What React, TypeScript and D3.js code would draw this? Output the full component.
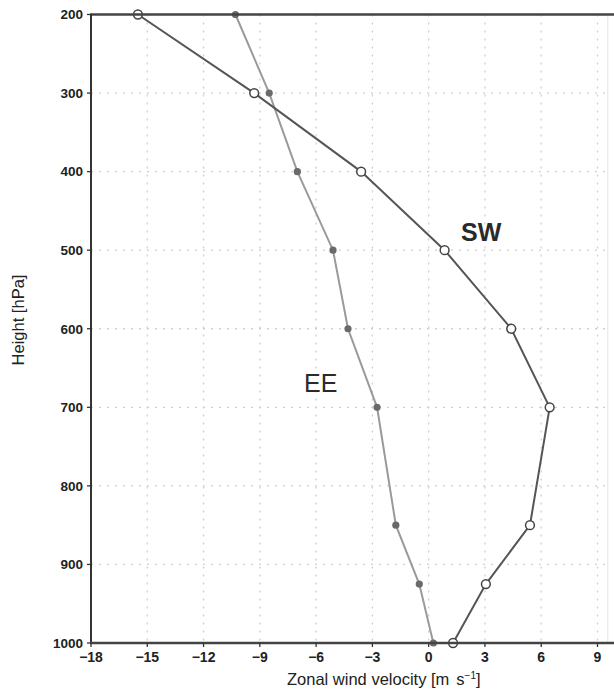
import React from "react";
import * as d3 from "d3";

const levels = [200, 300, 400, 500, 600, 700, 850, 925, 1000];
const swValues = [-15.5, -9.3, -3.6, 0.85, 4.4, 6.45, 5.4, 3.05, 1.3];
const eeValues = [-10.3, -8.5, -7.0, -5.1, -4.3, -2.75, -1.75, -0.5, 0.25];
const xTicks = [-18, -15, -12, -9, -6, -3, 0, 3, 6, 9];
const yTicks = [200, 300, 400, 500, 600, 700, 800, 900, 1000];

const W = 614;
const H = 695;
const left = 91;
const top = 14.5;
const bottom = 643;
const x = d3.scaleLinear().domain([-18, 9]).range([left, 597.5]);
const rightEdge = x(9.55);
const y = d3.scaleLinear().domain([200, 1000]).range([top, bottom]);

const fmt = (v: number) => (v < 0 ? "\u2212" + Math.abs(v) : String(v));

export default function App() {
  const line = d3
    .line<number>()
    .x((d) => x(d))
    .y((_, i) => y(levels[i]));
  const font = "'Liberation Sans', Arial, Helvetica, sans-serif";
  return (
    <svg width={W} height={H} style={{ position: "absolute", left: 0, top: 0, background: "#fff" }} fontFamily={font}>
      <rect x={0} y={0} width={W} height={H} fill="#fff" />
      {/* grid */}
      {xTicks.slice(1).map((t) => (
        <line key={"gx" + t} x1={x(t)} x2={x(t)} y1={top} y2={bottom} stroke="#cfcfcf" strokeWidth={1.3} strokeDasharray="2,6" />
      ))}
      {yTicks.slice(1, -1).map((t) => (
        <line key={"gy" + t} x1={left} x2={rightEdge} y1={y(t)} y2={y(t)} stroke="#cfcfcf" strokeWidth={1.3} strokeDasharray="2,6" />
      ))}
      <line x1={rightEdge} x2={rightEdge} y1={top} y2={bottom} stroke="#e4e4e4" strokeWidth={1} />
      {/* EE */}
      <path d={line(eeValues) || ""} fill="none" stroke="#9a9a9a" strokeWidth={2} />
      {eeValues.map((v, i) => (
        <circle key={"ee" + i} cx={x(v)} cy={y(levels[i])} r={3.6} fill="#6a6a6a" />
      ))}
      {/* SW */}
      <path d={line(swValues) || ""} fill="none" stroke="#555" strokeWidth={2} />
      {swValues.map((v, i) => (
        <circle key={"sw" + i} cx={x(v)} cy={y(levels[i])} r={4.4} fill="#fff" stroke="#444" strokeWidth={1.5} />
      ))}
      {/* axes */}
      <line x1={left} x2={W} y1={top} y2={top} stroke="#444" strokeWidth={2.6} />
      <line x1={left} x2={left} y1={top - 1} y2={bottom + 1} stroke="#333" strokeWidth={2} />
      <line x1={left - 1} x2={W} y1={bottom} y2={bottom} stroke="#444" strokeWidth={2.6} />
      {yTicks.map((t) => (
        <g key={"yt" + t}>
          <line x1={left - 4} x2={left} y1={y(t)} y2={y(t)} stroke="#333" strokeWidth={1.3} />
          <text x={left - 8} y={y(t)} dy="0.36em" textAnchor="end" fontSize={13.5} fontWeight="bold" fill="#222">
            {t}
          </text>
        </g>
      ))}
      {xTicks.map((t) => (
        <g key={"xt" + t}>
          <line x1={x(t)} x2={x(t)} y1={bottom} y2={bottom + 4} stroke="#333" strokeWidth={1.3} />
          <text x={x(t)} y={661.5} textAnchor="middle" fontSize={14} fontWeight="bold" fill="#222">
            {fmt(t)}
          </text>
        </g>
      ))}
      {/* labels */}
      <text x={287} y={685} fontSize={16.5} fill="#222">
        Zonal wind velocity [m
        <tspan dx={7}>s</tspan>
        <tspan dy={-6} fontSize={10}>−1</tspan>
        <tspan dy={6}>]</tspan>
      </text>
      <text transform="translate(24,320) rotate(-90)" textAnchor="middle" fontSize={16.5} fill="#222">
        Height [hPa]
      </text>
      <text x={461} y={241} fontSize={25} fontWeight="bold" fill="#2a2a2a">
        SW
      </text>
      <text x={304} y={392} fontSize={25} fill="#2a2a2a">
        EE
      </text>
    </svg>
  );
}
